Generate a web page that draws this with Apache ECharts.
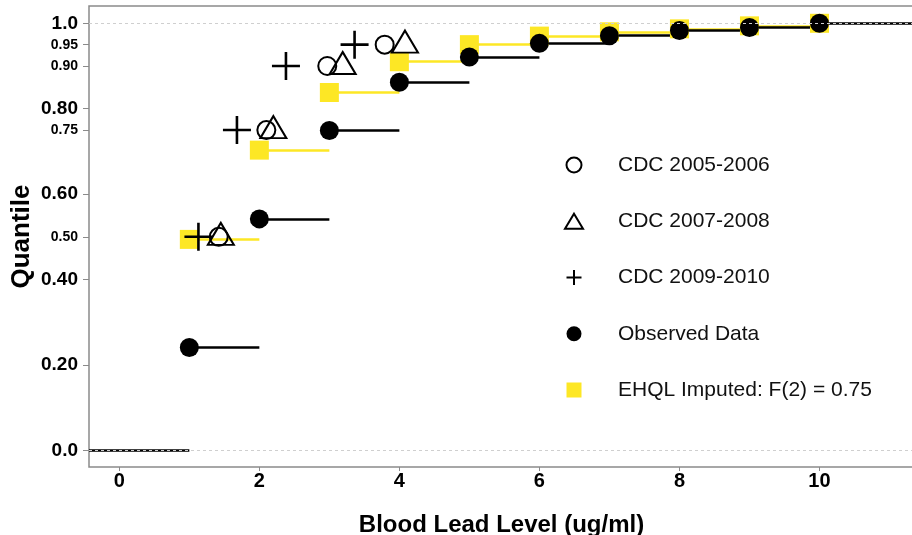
<!DOCTYPE html>
<html>
<head>
<meta charset="utf-8">
<script src="https://cdn.jsdelivr.net/npm/echarts@6/dist/echarts.min.js"></script>
<style>
html,body{margin:0;padding:0;background:#fff;}
#chart{width:912px;height:535px;}
</style>
</head>
<body>
<div id="chart"></div>
<script>
// ---- data ----
const levels = [1, 2, 3, 4, 5, 6, 7, 8, 9, 10];
const observedQ = [0.241, 0.542, 0.749, 0.862, 0.921, 0.953, 0.971, 0.983, 0.990, 1.0];
const imputedQ = [0.494, 0.703, 0.838, 0.910, 0.950, 0.970, 0.980, 0.987, 0.994, 1.0];

const cdcQ = [0.50, 0.75, 0.90, 0.95];
const cdc0506X = [1.42, 2.10, 2.97, 3.79];
const cdc0708X = [1.45, 2.20, 3.19, 4.08];
const cdc0910X = [1.13, 1.68, 2.38, 3.36];

const xTicks = [0, 2, 4, 6, 8, 10];
const yTicks = [0, 0.2, 0.4, 0.5, 0.6, 0.75, 0.8, 0.9, 0.95, 1.0];
const yTickLabels = ['0.0', '0.20', '0.40', '0.50', '0.60', '0.75', '0.80', '0.90', '0.95', '1.0'];
const yTickMajor = [true, true, true, false, true, false, true, false, false, true];

const seriesNames = ['CDC 2005-2006', 'CDC 2007-2008', 'CDC 2009-2010', 'Observed Data', 'EHQL Imputed: F(2) = 0.75'];

const X_MIN = -0.433, X_MAX = 11.35, Y_MIN = -0.039, Y_MAX = 1.0405;
const YELLOW = '#FDE725';
const FONT = 'Liberation Sans, Arial, sans-serif';

// ---- build step segments ----
function segments(xs, ys, extendEnds) {
  const out = [];
  if (extendEnds) out.push({coords: [[X_MIN, 0], [xs[0], 0]]});
  for (let i = 0; i < xs.length; i++) {
    const x1 = i < xs.length - 1 ? xs[i + 1] : (extendEnds ? X_MAX : null);
    if (x1 === null) continue;
    out.push({coords: [[xs[i], ys[i]], [x1, ys[i]]]});
  }
  return out;
}
const pairs = (xs, ys) => xs.map((x, i) => [x, ys[i]]);

const chart = echarts.init(document.getElementById('chart'), null, {renderer: 'canvas'});

const open = {color: '#fff', borderColor: '#000', borderWidth: 2};
const plusPath = 'path://M0,10H20M10,0V20';
const squarePath = 'path://M0,0H10V10H0Z';

const option = {
  animation: false,
  backgroundColor: '#fff',
  grid: {
    left: 89, top: 6, right: -2, bottom: 68,
    containLabel: false, outerBoundsMode: 'none',
    show: true, borderColor: '#8a8a8a', borderWidth: 1.5, backgroundColor: 'transparent'
  },
  xAxis: {
    type: 'value', min: X_MIN, max: X_MAX,
    name: 'Blood Lead Level (ug/ml)', nameLocation: 'middle', nameGap: 46, nameMoveOverlap: false,
    nameTextStyle: {fontFamily: FONT, fontWeight: 'bold', fontSize: 24, color: '#000'},
    axisLine: {show: false, onZero: false},
    axisTick: {show: true, length: 4, customValues: xTicks, lineStyle: {color: '#8a8a8a', width: 1}},
    axisLabel: {customValues: xTicks, margin: 4, fontFamily: FONT, fontWeight: 'bold', fontSize: 20, color: '#000'},
    splitLine: {show: false}
  },
  yAxis: {
    type: 'value', min: Y_MIN, max: Y_MAX,
    name: 'Quantile', nameLocation: 'middle', nameGap: 54, nameMoveOverlap: false,
    nameTextStyle: {fontFamily: FONT, fontWeight: 'bold', fontSize: 26, color: '#000'},
    axisLine: {show: false, onZero: false},
    axisTick: {show: true, length: 6, customValues: yTicks, lineStyle: {color: '#8a8a8a', width: 1}},
    axisLabel: {
      customValues: yTicks, margin: 11,
      formatter: function (v) {
        let idx = 0, best = 1e9;
        yTicks.forEach((t, i) => { if (Math.abs(t - v) < best) { best = Math.abs(t - v); idx = i; } });
        return (yTickMajor[idx] ? '{b|' : '{s|') + yTickLabels[idx] + '}';
      },
      rich: {
        b: {fontFamily: FONT, fontWeight: 'bold', fontSize: 19, color: '#000'},
        s: {fontFamily: FONT, fontWeight: 'bold', fontSize: 14, color: '#000'}
      }
    },
    splitLine: {show: false}
  },
  legend: {
    orient: 'vertical', left: 559, top: 149,
    itemWidth: 18, itemHeight: 15, itemGap: 34.25,
    textStyle: {fontFamily: FONT, fontSize: 21, color: '#111', lineHeight: 22, padding: [0, 0, 0, 30]},
    data: [
      {name: seriesNames[0], icon: 'circle', itemStyle: open},
      {name: seriesNames[1], icon: 'triangle', itemStyle: open},
      {name: seriesNames[2], icon: plusPath, itemStyle: {color: 'none', borderColor: '#000', borderWidth: 2}},
      {name: seriesNames[3], icon: 'circle', itemStyle: {color: '#000', borderWidth: 0}},
      {name: seriesNames[4], icon: squarePath, itemStyle: {color: YELLOW, borderWidth: 0}}
    ]
  },
  series: [
    {
      type: 'lines', coordinateSystem: 'cartesian2d', name: 'imputedSteps', silent: true,
      data: segments(levels, imputedQ, false),
      lineStyle: {color: YELLOW, width: 2.6, opacity: 1}
    },
    {
      type: 'scatter', name: seriesNames[4], symbol: 'rect', symbolSize: 19,
      data: pairs(levels, imputedQ),
      itemStyle: {color: YELLOW, opacity: 1},
      markLine: {
        silent: true, symbol: ['none', 'none'], label: {show: false},
        lineStyle: {color: '#cfcfcf', type: [3, 3], width: 1},
        data: [{yAxis: 0}, {yAxis: 1}]
      }
    },
    {
      type: 'lines', coordinateSystem: 'cartesian2d', name: 'observedSteps', silent: true,
      data: segments(levels, observedQ, true),
      lineStyle: {color: '#000', width: 2.6, opacity: 1}
    },
    {
      type: 'scatter', name: seriesNames[3], symbol: 'circle', symbolSize: 19,
      data: pairs(levels, observedQ),
      itemStyle: {color: '#000', opacity: 1}
    },
    {
      type: 'scatter', name: seriesNames[0], symbol: 'circle', symbolSize: 18,
      data: pairs(cdc0506X, cdcQ),
      itemStyle: {color: 'rgba(255,255,255,0)', borderColor: '#000', borderWidth: 2, opacity: 1}
    },
    {
      type: 'scatter', name: seriesNames[1], symbol: 'triangle', symbolSize: [26, 22], symbolOffset: [0, -3],
      data: pairs(cdc0708X, cdcQ),
      itemStyle: {color: 'rgba(255,255,255,0)', borderColor: '#000', borderWidth: 2, opacity: 1}
    },
    {
      type: 'scatter', name: seriesNames[2], symbol: plusPath, symbolSize: 28,
      data: pairs(cdc0910X, cdcQ),
      itemStyle: {color: 'rgba(0,0,0,0)', borderColor: '#000', borderWidth: 2.6, opacity: 1}
    }
  ]
};
chart.setOption(option);
</script>
</body>
</html>
